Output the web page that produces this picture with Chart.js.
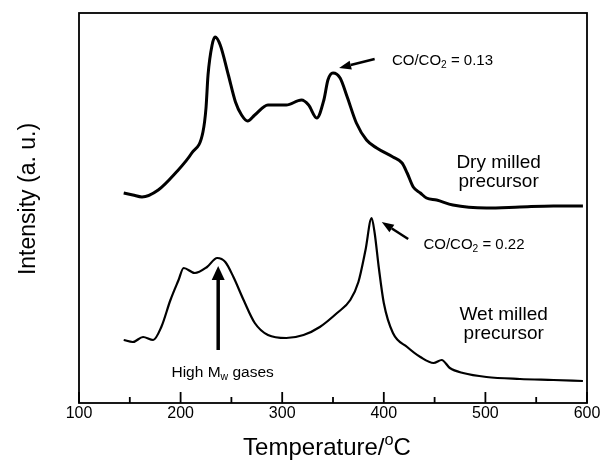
<!DOCTYPE html>
<html lang="en">
<head>
<meta charset="UTF-8">
<title>TPD - milled precursors</title>
<script src="https://cdn.jsdelivr.net/npm/chart.js"></script>
<style>
  html, body { margin: 0; padding: 0; background: #fff; }
</style>
</head>
<body>
<canvas id="tpd" width="605" height="461"></canvas>
<script>
// Temperature axis (°C)
const xTicks = [100, 200, 300, 400, 500, 600];

// Dry milled precursor (upper trace, offset intensity)
const dryTemp = [144, 153, 162, 178, 195, 211, 222, 225, 227, 231, 234, 239, 247, 254, 260, 266, 273, 286, 304, 319, 326, 334, 341, 345, 350, 357, 364, 373, 383, 393, 409, 418, 423, 429, 436, 442, 452, 468, 501, 534, 567, 596];
const dryIntensity = [210, 208, 206, 213, 230, 250, 271, 295, 328, 358, 366, 358, 328, 301, 288, 282, 288, 298, 298, 303, 298, 285, 303, 323, 330, 325, 306, 280, 263, 255, 246, 240, 230, 216, 210, 205, 203, 198, 195, 196, 197, 197];

// Wet milled precursor (lower trace)
const wetTemp = [144, 153, 163, 173, 181, 190, 198, 203, 214, 226, 236, 244, 252, 262, 273, 286, 304, 321, 337, 354, 367, 375, 382, 388, 391, 395, 400, 409, 423, 436, 449, 457, 465, 478, 501, 534, 567, 596];
const wetIntensity = [63, 61, 66, 63, 76, 103, 123, 135, 130, 136, 145, 141, 126, 103, 80, 68, 65, 68, 76, 90, 103, 121, 153, 185, 170, 136, 100, 70, 56, 46, 40, 43, 35, 30, 26, 24, 23, 22];

const FONT = '"Liberation Sans", Arial, Helvetica, sans-serif';

function toPoints(xs, ys) {
  return xs.map((t, i) => ({ x: t, y: ys[i] }));
}

// text with sub/superscript pieces: parts = [[text, 'sub'|'sup'|null], ...]
function richText(ctx, parts, x, y, size, align) {
  const fontFor = k => (k ? size * 0.68 : size) + 'px ' + FONT;
  let w = 0;
  for (const [s, k] of parts) { ctx.font = fontFor(k); w += ctx.measureText(s).width; }
  let cx = align === 'center' ? x - w / 2 : x;
  ctx.textAlign = 'left';
  ctx.textBaseline = 'alphabetic';
  for (const [s, k] of parts) {
    ctx.font = fontFor(k);
    const dy = k === 'sub' ? size * 0.2 : k === 'sup' ? -size * 0.42 : 0;
    ctx.fillText(s, cx, y + dy);
    cx += ctx.measureText(s).width;
  }
}

function arrow(ctx, x0, y0, x1, y1, lw, headLen, headHalf) {
  const ang = Math.atan2(y1 - y0, x1 - x0);
  const bx = x1 - Math.cos(ang) * headLen, by = y1 - Math.sin(ang) * headLen;
  ctx.lineWidth = lw;
  ctx.beginPath(); ctx.moveTo(x0, y0); ctx.lineTo(bx, by); ctx.stroke();
  ctx.beginPath();
  ctx.moveTo(x1, y1);
  ctx.lineTo(bx - Math.sin(ang) * headHalf, by + Math.cos(ang) * headHalf);
  ctx.lineTo(bx + Math.sin(ang) * headHalf, by - Math.cos(ang) * headHalf);
  ctx.closePath();
  ctx.fill();
}

// frame, inward ticks, axis titles and annotations
const decor = {
  id: 'decor',
  afterDraw(chart) {
    const { ctx, chartArea: a, scales: { x, y } } = chart;
    const X = v => x.getPixelForValue(v), Y = v => y.getPixelForValue(v);
    ctx.save();
    ctx.strokeStyle = '#000';
    ctx.fillStyle = '#000';
    ctx.lineWidth = 1.8;
    ctx.strokeRect(a.left, a.top, a.right - a.left, a.bottom - a.top);

    for (let t = 100; t <= 600; t += 50) {
      const len = t % 100 === 0 ? 11 : 6;
      ctx.beginPath();
      ctx.moveTo(X(t), a.bottom);
      ctx.lineTo(X(t), a.bottom - len);
      ctx.stroke();
    }

    // axis titles
    richText(ctx, [['Temperature/', null], ['o', 'sup'], ['C', null]], (a.left + a.right) / 2 - 6, a.bottom + 52, 24, 'center');
    ctx.save();
    ctx.translate(35, (a.top + a.bottom) / 2 - 9);
    ctx.rotate(-Math.PI / 2);
    richText(ctx, [['Intensity (a. u.)', null]], 0, 0, 23, 'center');
    ctx.restore();

    // peak ratios
    arrow(ctx, X(391), Y(344), X(356), Y(335), 2.5, 12, 4.5);
    richText(ctx, [['CO/CO', null], ['2', 'sub'], [' = 0.13', null]], X(408), Y(338), 15, 'left');
    arrow(ctx, X(424), Y(164), X(398), Y(181), 2.5, 12, 4.5);
    richText(ctx, [['CO/CO', null], ['2', 'sub'], [' = 0.22', null]], X(439), Y(154), 15, 'left');

    // sample names
    richText(ctx, [['Dry milled', null]], X(513), Y(235), 19, 'center');
    richText(ctx, [['precursor', null]], X(513), Y(216), 19, 'center');
    richText(ctx, [['Wet milled', null]], X(518), Y(83), 19, 'center');
    richText(ctx, [['precursor', null]], X(518), Y(64), 19, 'center');

    // high molecular weight gases
    arrow(ctx, X(237), Y(53), X(237), Y(137), 3.5, 14, 6.5);
    richText(ctx, [['High M', null], ['w', 'sub'], [' gases', null]], X(191), Y(26), 15.5, 'left');
    ctx.restore();
  }
};

new Chart(document.getElementById('tpd'), {
  type: 'line',
  data: {
    datasets: [
      {
        label: 'Dry milled precursor',
        data: toPoints(dryTemp, dryIntensity),
        borderColor: '#000',
        borderWidth: 3,
        pointRadius: 0,
        cubicInterpolationMode: 'monotone'
      },
      {
        label: 'Wet milled precursor',
        data: toPoints(wetTemp, wetIntensity),
        borderColor: '#000',
        borderWidth: 2.2,
        pointRadius: 0,
        cubicInterpolationMode: 'monotone'
      }
    ]
  },
  options: {
    responsive: false,
    animation: false,
    layout: { padding: { left: 79, top: 13, right: 18, bottom: 0 } },
    plugins: { legend: { display: false }, tooltip: { enabled: false } },
    scales: {
      x: {
        type: 'linear',
        min: xTicks[0],
        max: xTicks[xTicks.length - 1],
        afterBuildTicks: s => { s.ticks = xTicks.map(v => ({ value: v })); },
        afterFit: s => { s.height = 58; },
        grid: { display: false, drawTicks: false },
        border: { display: false },
        ticks: { color: '#000', font: { family: FONT, size: 16 }, padding: 1, maxRotation: 0 }
      },
      y: { display: false, min: 0, max: 390 }
    }
  },
  plugins: [decor]
});
</script>
</body>
</html>
